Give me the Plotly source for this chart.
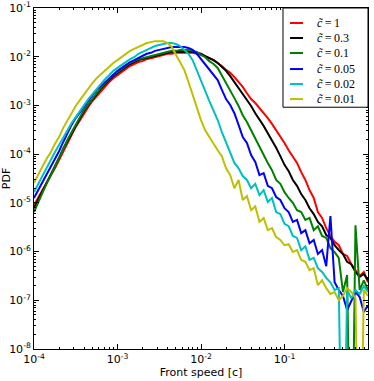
import numpy as np
import plotly.graph_objects as go

# common log-spaced speed bins (units of c)
speed = np.logspace(-4, 0, 81)

# log10(PDF); None = empty bin (zero count)
pdf_c1 = [-5.05, -4.88, -4.74, -4.59, -4.45, -4.29, -4.12, -3.94, -3.77, -3.61,
          -3.44, -3.30, -3.16, -3.03, -2.91, -2.81, -2.70, -2.60, -2.52, -2.44,
          -2.38, -2.31, -2.25, -2.19, -2.15, -2.11, -2.09, -2.05, -2.03, -2.01,
          -1.99, -1.96, -1.94, -1.94, -1.92, -1.92, -1.92, -1.92, -1.92, -1.94,
          -1.96, -1.99, -2.03, -2.07, -2.13, -2.19, -2.27, -2.33, -2.42, -2.52,
          -2.62, -2.75, -2.87, -2.95, -3.05, -3.16, -3.26, -3.38, -3.51, -3.63,
          -3.77, -3.92, -4.06, -4.18, -4.37, -4.53, -4.74, -4.90, -5.19, -5.31,
          -5.52, -5.68, -5.80, -5.87, -6.05, -6.09, -6.26, -6.38, -6.50, -6.42,
          -6.63]
pdf_c03 = [-5.11, -4.94, -4.78, -4.59, -4.43, -4.24, -4.08, -3.89, -3.73, -3.57,
           -3.40, -3.26, -3.11, -2.99, -2.87, -2.77, -2.66, -2.56, -2.48, -2.40,
           -2.33, -2.27, -2.21, -2.15, -2.11, -2.07, -2.05, -2.03, -2.01, -1.99,
           -1.96, -1.94, -1.92, -1.90, -1.90, -1.90, -1.90, -1.90, -1.90, -1.92,
           -1.94, -1.99, -2.03, -2.07, -2.13, -2.21, -2.29, -2.40, -2.52, -2.64,
           -2.77, -2.89, -3.01, -3.16, -3.28, -3.42, -3.57, -3.71, -3.87, -4.04,
           -4.22, -4.35, -4.53, -4.65, -4.82, -4.94, -5.11, -5.23, -5.39, -5.48,
           -5.66, -5.72, -5.87, -5.97, -6.05, -6.21, -6.26, -6.42, -6.52, -6.46,
           -6.59]
pdf_c01 = [-5.19, -4.98, -4.80, -4.61, -4.45, -4.26, -4.08, -3.89, -3.71, -3.55,
           -3.38, -3.24, -3.09, -2.97, -2.85, -2.75, -2.64, -2.54, -2.46, -2.38,
           -2.31, -2.25, -2.19, -2.13, -2.09, -2.05, -2.03, -2.01, -1.99, -1.96,
           -1.94, -1.92, -1.90, -1.88, -1.88, -1.86, -1.86, -1.86, -1.88, -1.90,
           -1.96, -2.01, -2.09, -2.15, -2.23, -2.38, -2.52, -2.68, -2.85, -3.01,
           -3.20, -3.34, -3.51, -3.67, -3.87, -4.02, -4.18, -4.33, -4.53, -4.61,
           -4.78, -4.90, -5.00, -5.15, -5.19, -5.35, -5.31, -5.56, -5.48, -5.68,
           -5.72, -5.93, -6.01, -6.13, -6.83, -6.48, None, -5.46, -6.79, -6.59,
           -6.79]
pdf_c005 = [-4.90, -4.74, -4.57, -4.43, -4.26, -4.10, -3.94, -3.75, -3.57, -3.40,
            -3.26, -3.14, -3.01, -2.89, -2.79, -2.68, -2.60, -2.52, -2.44, -2.36,
            -2.29, -2.23, -2.17, -2.11, -2.07, -2.03, -1.99, -1.94, -1.92, -1.88,
            -1.86, -1.84, -1.82, -1.80, -1.80, -1.80, -1.80, -1.82, -1.86, -1.94,
            -2.05, -2.15, -2.25, -2.36, -2.48, -2.68, -2.87, -2.99, -3.16, -3.40,
            -3.65, -3.77, -4.02, -4.16, -4.43, -4.39, -4.65, -4.70, -4.88, -4.94,
            -5.11, -5.19, -5.39, -5.35, -5.62, -5.56, -5.83, -5.76, -6.05, -5.97,
            -6.30, -5.27, -6.63, -6.79, -6.91, -7.20, -7.00, -6.83, -6.93, -7.24,
            -7.10]
pdf_c002 = [-4.78, -4.61, -4.47, -4.29, -4.12, -3.96, -3.81, -3.65, -3.51, -3.36,
            -3.24, -3.11, -2.99, -2.87, -2.77, -2.66, -2.56, -2.46, -2.38, -2.29,
            -2.23, -2.17, -2.11, -2.05, -2.01, -1.94, -1.90, -1.86, -1.82, -1.78,
            -1.76, -1.74, -1.72, -1.72, -1.74, -1.78, -1.86, -1.94, -2.07, -2.27,
            -2.50, -2.70, -2.91, -3.11, -3.30, -3.55, -3.77, -3.96, -4.18, -4.29,
            -4.45, -4.53, -4.70, -4.61, -4.84, -4.74, -4.98, -4.90, -5.19, -5.23,
            -5.43, -5.48, -5.68, -5.72, -5.97, -5.89, -6.17, -6.13, -6.34, -6.42,
            -6.54, -6.63, -6.79, -6.75, None, -6.79, -6.96, -6.79, -6.87, -6.71,
            -6.83]
pdf_c001 = [-4.59, -4.41, -4.26, -4.10, -3.96, -3.79, -3.65, -3.46, -3.30, -3.16,
            -3.01, -2.89, -2.77, -2.64, -2.54, -2.44, -2.36, -2.27, -2.19, -2.13,
            -2.07, -2.01, -1.94, -1.88, -1.84, -1.80, -1.76, -1.72, -1.70, -1.68,
            -1.68, -1.68, -1.72, -1.80, -1.96, -2.11, -2.27, -2.52, -2.79, -3.05,
            -3.30, -3.51, -3.65, -3.77, -3.92, -4.04, -4.29, -4.43, -4.70, -4.53,
            -4.94, -4.86, -5.15, -5.07, -5.39, -5.31, -5.56, -5.52, -5.70, -5.76,
            -5.87, -5.85, -6.01, -5.97, -6.17, -6.21, -6.38, -6.34, -6.69, -6.59,
            -6.75, -6.87, -6.83, -7.00, -6.91, -6.75, -6.83, -6.96, None, -6.79,
            -6.91]

labels = ["1", "0.3", "0.1", "0.05", "0.02", "0.01"]
series = [pdf_c1, pdf_c03, pdf_c01, pdf_c005, pdf_c002, pdf_c001]
colors = ["#ff0000", "#000000", "#008000", "#0000ff", "#00bfbf", "#bfbf00"]

x_ticks = [1e-4, 1e-3, 1e-2, 1e-1, 1e0]
x_ticktext = ["10<sup>-4</sup>", "10<sup>-3</sup>", "10<sup>-2</sup>", "10<sup>-1</sup>", "10<sup>0</sup>"]
y_ticks = [1e-8, 1e-7, 1e-6, 1e-5, 1e-4, 1e-3, 1e-2, 1e-1]
y_ticktext = ["10<sup>-8</sup>", "10<sup>-7</sup>", "10<sup>-6</sup>", "10<sup>-5</sup>",
              "10<sup>-4</sup>", "10<sup>-3</sup>", "10<sup>-2</sup>", "10<sup>-1</sup>"]

FLOOR = 1e-12  # empty bins drop off the bottom of the log axis

fig = go.Figure()
for lab, arr, col in zip(labels, series, colors):
    y = [10 ** v if v is not None else FLOOR for v in arr]
    fig.add_trace(go.Scatter(
        x=speed, y=y, mode="lines",
        line=dict(color=col, width=2),
        name="c̃ = " + lab, showlegend=False,
    ))

# legend box drawn inside the axes (top-right)
leg_x0, leg_x1, leg_y0, leg_y1 = 0.7455, 1.0, 0.709, 1.0
row_y = [0.956, 0.912, 0.868, 0.821, 0.777, 0.733]
fig.add_shape(type="rect", xref="paper", yref="paper",
              x0=leg_x0, x1=leg_x1, y0=leg_y0, y1=leg_y1,
              line=dict(color="black", width=1), fillcolor="white", layer="above")
for lab, col, ry in zip(labels, colors, row_y):
    fig.add_shape(type="line", xref="paper", yref="paper",
                  x0=0.7665, x1=0.8054, y0=ry, y1=ry,
                  line=dict(color=col, width=2), layer="above")
    fig.add_annotation(xref="paper", yref="paper", x=0.8413, y=ry,
                       xanchor="left", yanchor="middle", showarrow=False,
                       text="<i>c̃</i>\u2009=\u2009" + lab,
                       font=dict(family="Liberation Serif", size=12, color="black"))

x_minor = [m * 10.0 ** e for e in range(-4, 0) for m in range(2, 10)]
y_minor = [m * 10.0 ** e for e in range(-8, -1) for m in range(2, 10)]

axis_common = dict(
    showline=True, linecolor="black", linewidth=1, mirror="allticks",
    ticks="inside", ticklen=5, tickwidth=1, tickcolor="black",
    showgrid=False, zeroline=False, automargin=False,
    tickfont=dict(family="DejaVu Sans", size=11, color="black"),
)

fig.update_layout(
    width=374, height=381,
    margin=dict(l=34, r=6, t=8, b=32),
    paper_bgcolor="white", plot_bgcolor="white",
    font=dict(family="DejaVu Sans", color="black"),
    xaxis=dict(type="log", range=[-4, 0], tickmode="array",
               tickvals=x_ticks, ticktext=x_ticktext,
               minor=dict(tickmode="array", tickvals=x_minor, ticks="inside",
                          ticklen=2, tickcolor="black", showgrid=False),
               title=dict(text="Front speed [c]", font=dict(size=11), standoff=2),
               **axis_common),
    yaxis=dict(type="log", range=[-8, -1], tickmode="array",
               tickvals=y_ticks, ticktext=y_ticktext,
               minor=dict(tickmode="array", tickvals=y_minor, ticks="inside",
                          ticklen=2, tickcolor="black", showgrid=False),
               title=dict(text="PDF", font=dict(size=11), standoff=2),
               **axis_common),
    showlegend=False,
)

fig.write_html(
    "out.html",
    config={"displayModeBar": False},
    post_script="document.body.style.margin='0';document.body.style.padding='0';",
)
